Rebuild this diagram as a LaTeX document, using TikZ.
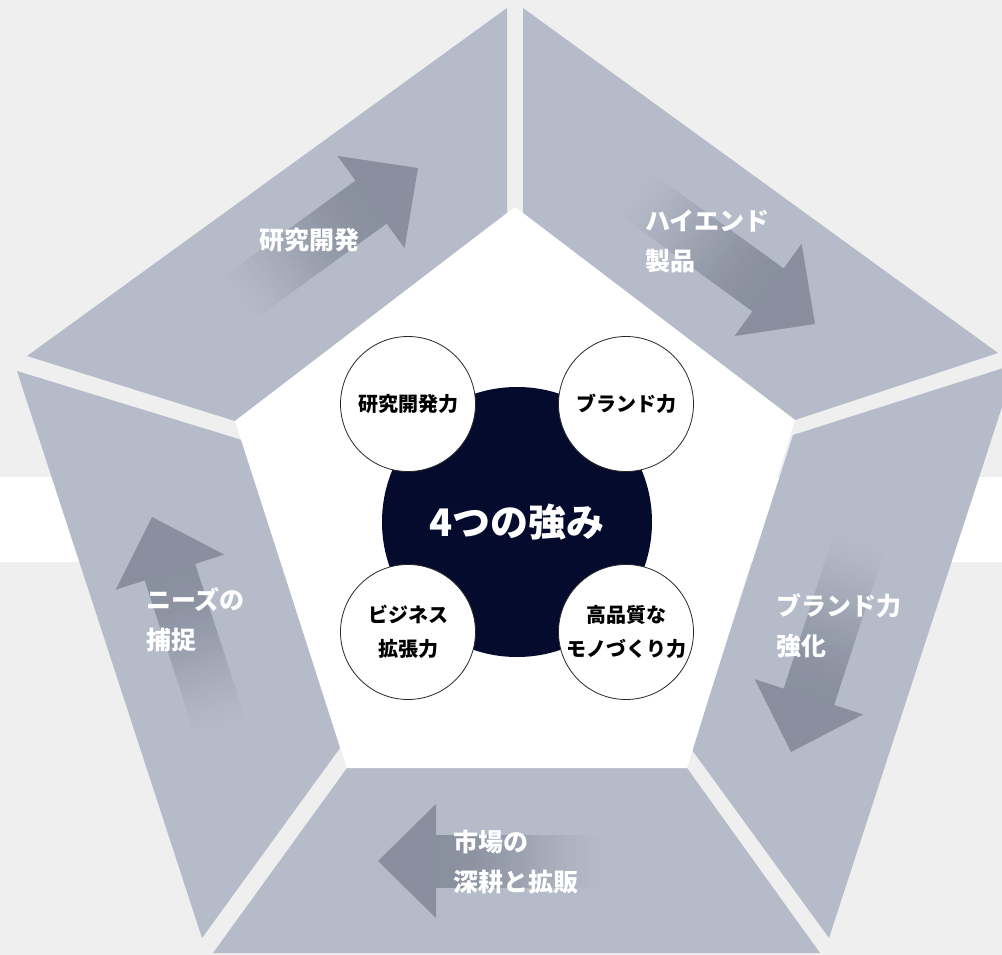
\documentclass[tikz,border=0pt]{standalone}
\usepackage{fontspec}
\setmainfont{Noto Sans CJK JP}
\definecolor{bgc}{HTML}{EFEFEF}
\definecolor{segc}{HTML}{B5BBC8}
\definecolor{arrc}{HTML}{898F9E}
\definecolor{navy}{HTML}{050B2D}
\newcommand{\blockarrow}[2]{%
  \begin{scope}[shift={(#1)},rotate=#2]
    \fill[arrc] (0,0) -- (-58,57) -- (-58,-57) -- cycle;
    \foreach \i in {0,...,35}{%
      \pgfmathsetmacro{\fr}{\i/36}%
      \pgfmathtruncatemacro{\p}{100*(1-(3*\fr*\fr-2*\fr*\fr*\fr))}%
      \fill[arrc!\p!segc] ({-57.5-\i*5},-26.5) rectangle ({-57.5-\i*5-5.6},26.5);
    }
  \end{scope}}
\begin{document}
\begin{tikzpicture}[x=1pt,y=-1pt,
  seg/.style={fill=segc},
  lbl/.style={text=white,font=\fontsize{25}{40}\selectfont\bfseries,align=left,inner sep=0pt},
  strong/.style={circle,draw=black!85,line width=0.8pt,fill=white,minimum size=135pt,inner sep=0pt,align=center,font=\fontsize{20}{34}\selectfont\bfseries}]
\useasboundingbox (0,0) rectangle (1002,955);
\begin{scope}
\clip (0,0) rectangle (1002,955);
\fill[bgc] (0,0) rectangle (1002,955);
\fill[white] (0,477) rectangle (1002,562);
% segments
\fill[seg] (27,356) -- (507,8) -- (507,213) -- (235,421) -- cycle;
\fill[seg] (523,8) -- (998,353) -- (795,420) -- (523,213) -- cycle;
\fill[seg] (1016,364) -- (829,938) -- (692,750) -- (793,435) -- cycle;
\fill[seg] (347,768) -- (687,768) -- (820,953) -- (213,953) -- cycle;
\fill[seg] (17,371) -- (242,440) -- (340,748) -- (202,938) -- cycle;
% arrows
\blockarrow{418,168}{36}
\blockarrow{815,324}{-36}
\blockarrow{791,752}{-108}
\blockarrow{378,861}{180}
\blockarrow{152,517}{108}
% inner pentagon
\fill[white] (515,207) -- (795,420) -- (687,768) -- (347,768) -- (235,421) -- cycle;
\end{scope}
% core
\node[circle,fill=navy,minimum size=270pt,inner sep=0pt,text=white,font=\fontsize{38}{44}\selectfont\bfseries] (core) at (517,522) {4つの強み};
\node[strong] (s1) at (408,404) {研究開発力};
\node[strong] (s2) at (626,404) {ブランド力};
\node[strong] (s3) at (408,632) {ビジネス\\拡張力};
\node[strong] (s4) at (626,632) {高品質な\\モノづくり力};
% segment labels
\node[lbl] (t1) at (309,240) {研究開発};
\node[lbl,anchor=west] (t2) at (645,241) {ハイエンド\\製品};
\node[lbl,anchor=west] (t3) at (776,626) {ブランド力\\強化};
\node[lbl,anchor=west] (t4) at (146,620) {ニーズの\\捕捉};
\node[lbl,anchor=west] (t5) at (453,862) {市場の\\深耕と拡販};
\end{tikzpicture}
\end{document}
